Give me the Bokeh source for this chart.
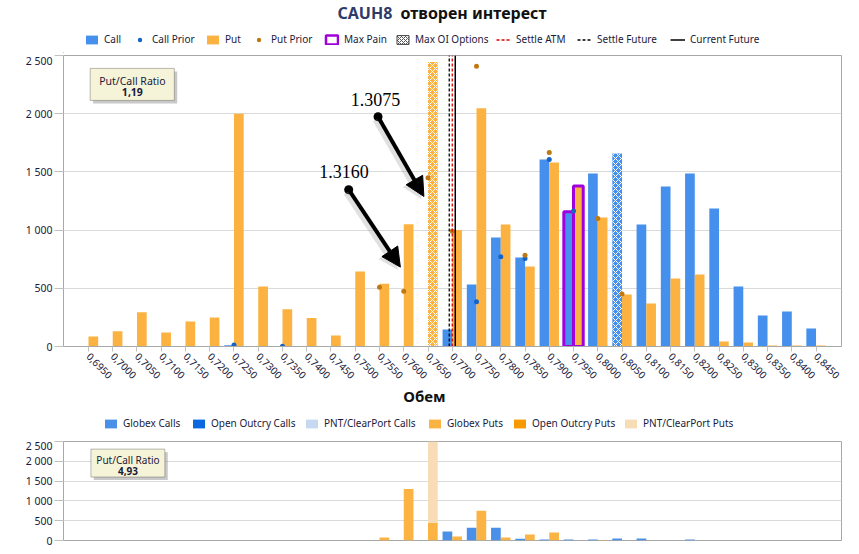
import numpy as np
from bokeh.plotting import figure
from bokeh.models import (Range1d, FixedTicker, Legend, LegendItem, ColumnDataSource,
                          Label, Arrow, NormalHead, BoxAnnotation)
from bokeh.layouts import column
from bokeh.embed import file_html
from bokeh.resources import INLINE

nan = float("nan")

# ---------------- data ----------------
strikes = ["0,6950", "0,7000", "0,7050", "0,7100", "0,7150", "0,7200", "0,7250", "0,7300",
           "0,7350", "0,7400", "0,7450", "0,7500", "0,7550", "0,7600", "0,7650", "0,7700",
           "0,7750", "0,7800", "0,7850", "0,7900", "0,7950", "0,8000", "0,8050", "0,8100",
           "0,8150", "0,8200", "0,8250", "0,8300", "0,8350", "0,8400", "0,8450"]
calls = [5, 5, 5, 5, 5, 5, 10, 5, 5, 5, 5, 5, 5, 5, 5, 146, 533, 937, 765, 1607, 1158,
         1487, 1659, 1049, 1375, 1487, 1186, 516, 266, 301, 155]
puts = [85, 130, 295, 120, 215, 250, 2000, 515, 320, 245, 95, 645, 540, 1050, 2445, 1000,
        2046, 1049, 688, 1581, 1378, 1109, 447, 370, 584, 619, 43, 34, 8, 8, 8]
call_prior = [nan, nan, nan, nan, nan, nan, 12, nan, 3, nan, nan, nan, nan, nan, nan, nan,
              384, 771, 756, 1607, 1165, nan, nan, nan, nan, nan, nan, nan, nan, nan, nan]
put_prior = [nan, nan, nan, nan, nan, nan, nan, nan, nan, nan, nan, nan, 510, 475, 1450, 990,
             2407, nan, 785, 1667, nan, 1100, 450, nan, nan, nan, nan, nan, nan, nan, nan]
max_pain = "0,7950"
settle_atm = 0.7700
settle_future = 0.76938
current_future = 0.77062
pc_ratio_oi = "1,19"

globex_calls = [0, 0, 0, 0, 0, 0, 0, 0, 0, 0, 0, 0, 0, 0, 0, 225, 325, 325, 45, 25, 25,
                25, 50, 50, 0, 25, 0, 0, 0, 0, 0]
open_outcry_calls = [0] * 31
pnt_calls = [0] * 31
globex_puts = [0, 0, 0, 0, 0, 0, 0, 0, 0, 0, 0, 0, 75, 1300, 450, 100, 750, 75, 150, 200,
               0, 15, 0, 0, 0, 0, 0, 0, 0, 0, 0]
open_outcry_puts = [0] * 31
pnt_puts = [0, 0, 0, 0, 0, 0, 0, 0, 0, 0, 0, 0, 0, 0, 2150, 0, 0, 0, 0, 0, 0, 0, 0, 0, 0,
            0, 0, 0, 0, 0, 0]
pc_ratio_vol = "4,93"

y_ticks = [0, 500, 1000, 1500, 2000, 2500]
y_tick_labels = ["0", "500", "1 000", "1 500", "2 000", "2 500"]

# ---------------- styles ----------------
FONT = "Noto Sans"
CALL = "#4590ec"
PUT = "#fbb240"
CALL_PRIOR = "#1464c8"
PUT_PRIOR = "#c07812"
MAXPAIN = "#a000dc"
TXT = "#1a1a3a"
GRID = "#dadada"
BORDER = "#a8a8a8"
G_C, O_C, P_C = "#4a8fe8", "#0a68e0", "#c6d9f1"
G_P, O_P, P_P = "#fbb444", "#f79a00", "#f7dcb6"
PAGE_W = 851
FR_L, FR_R = 63, 841   # frame edges shared by every plot in the column

n = len(strikes)
idx = np.arange(n)
strike_nums = np.array([float(s.replace(",", ".")) for s in strikes])
calls_a = np.array(calls, dtype=float)
puts_a = np.array(puts, dtype=float)
oi_call = int(np.argmax(calls_a))
oi_put = int(np.argmax(puts_a))
mp = strikes.index(max_pain)
W = 0.4
OFF = 0.2
XR = (-1.03, 31.05)


def blank(height):
    f = figure(width=PAGE_W, height=height, x_range=Range1d(FR_L, FR_R),
               y_range=Range1d(0, height), output_backend="svg", toolbar_location=None,
               x_axis_location=None, y_axis_location=None, min_border=0,
               min_border_left=FR_L, min_border_right=PAGE_W - FR_R, min_border_top=0,
               min_border_bottom=0)
    f.grid.visible = False
    f.outline_line_color = None
    return f


def add_legend(f, renderer, label, x, y):
    f.add_layout(Legend(items=[LegendItem(label=label, renderers=[renderer])],
                        location=(x - FR_L, y), orientation="horizontal",
                        label_text_font=FONT, label_text_font_size="10px",
                        label_text_color=TXT, glyph_width=15, glyph_height=11,
                        label_height=14, label_standoff=5, padding=0, margin=0,
                        border_line_alpha=0, background_fill_alpha=0))


def style_axes(p):
    p.xgrid.visible = False
    p.ygrid.grid_line_color = GRID
    p.outline_line_color = BORDER
    p.yaxis.ticker = FixedTicker(ticks=y_ticks)
    p.yaxis.major_label_overrides = {t: l for t, l in zip(y_ticks, y_tick_labels)}
    p.yaxis.axis_line_color = None
    p.yaxis.major_tick_line_color = "#c0c0c0"
    p.yaxis.major_tick_out = 9
    p.yaxis.major_tick_in = 0
    p.yaxis.minor_tick_line_color = None
    p.yaxis.major_label_standoff = 2
    p.yaxis.major_label_text_font = FONT
    p.yaxis.major_label_text_font_size = "10.5px"
    p.yaxis.major_label_text_color = TXT
    p.xaxis.ticker = FixedTicker(ticks=list(range(n)))
    p.xaxis.major_label_overrides = {i: s for i, s in enumerate(strikes)}
    p.xaxis.axis_line_color = BORDER
    p.xaxis.major_tick_line_color = "#c0c0c0"
    p.xaxis.major_tick_out = 5
    p.xaxis.major_tick_in = 0
    p.xaxis.minor_tick_line_color = None
    p.xaxis.major_label_orientation = -np.pi / 4
    p.xaxis.major_label_text_font = FONT
    p.xaxis.major_label_text_font_size = "10px"
    p.xaxis.major_label_text_color = TXT
    p.xaxis.major_label_standoff = 3


# ---------------- header: title + legend ----------------
H1 = 53
h1 = blank(H1)
h1.add_layout(Label(x=337, y=40.5, text="CAUH8", text_baseline="middle", text_font=FONT,
                    text_font_size="16px", text_font_style="bold", text_color="#2e3b6a"))
h1.add_layout(Label(x=400, y=40.5, text="отворен интерест", text_baseline="middle",
                    text_font=FONT, text_font_size="16px", text_font_style="bold",
                    text_color="#111111"))
# legend-only renderers, placed far outside the visible range
off = [-1000]
lo, hi = [-60], [-50]
lg_call = h1.vbar(x=off, bottom=lo, top=hi, width=1, fill_color=CALL, line_color=None)
lg_cp = h1.scatter(x=off, y=lo, size=5, fill_color=CALL_PRIOR, line_color=None)
lg_put = h1.vbar(x=off, bottom=lo, top=hi, width=1, fill_color=PUT, line_color=None)
lg_pp = h1.scatter(x=off, y=lo, size=5, fill_color=PUT_PRIOR, line_color=None)
lg_mp = h1.vbar(x=off, bottom=lo, top=hi, width=1, fill_color="white", line_color=MAXPAIN,
                line_width=2.5)
lg_oi = h1.vbar(x=off, bottom=lo, top=hi, width=1, fill_color="white", line_color="#444444",
                hatch_pattern="diagonal_cross", hatch_color="#555555", hatch_weight=1,
                hatch_scale=4)
lg_atm = h1.segment(x0=off, x1=off, y0=lo, y1=hi, line_color="#e00000", line_dash="3 2",
                    line_width=1.3)
lg_sf = h1.segment(x0=off, x1=off, y0=lo, y1=hi, line_color="black", line_dash="3 2",
                   line_width=1.3)
lg_cf = h1.segment(x0=off, x1=off, y0=lo, y1=hi, line_color="black", line_width=1.5)
for r, lab, gx in [(lg_call, "Call", 84), (lg_cp, "Call Prior", 132), (lg_put, "Put", 205),
                   (lg_pp, "Put Prior", 251), (lg_mp, "Max Pain", 324),
                   (lg_oi, "Max OI Options", 395), (lg_atm, "Settle ATM", 496),
                   (lg_sf, "Settle Future", 577), (lg_cf, "Current Future", 670)]:
    add_legend(h1, r, lab, gx, 7)

# ---------------- main chart ----------------
p = figure(width=PAGE_W, height=334, x_range=Range1d(*XR), y_range=Range1d(0, 2500),
           output_backend="svg", toolbar_location=None, min_border_left=FR_L,
           min_border_right=PAGE_W - FR_R, min_border_top=2, min_border_bottom=41)
style_axes(p)

mask_c = idx != oi_call
mask_p = idx != oi_put
p.vbar(x=idx[mask_c] - OFF, top=calls_a[mask_c], width=W, fill_color=CALL, line_color=None)
p.vbar(x=idx[mask_p] + OFF, top=puts_a[mask_p], width=W, fill_color=PUT, line_color=None)
p.vbar(x=[oi_call - OFF], top=[calls_a[oi_call]], width=W, fill_color=CALL, line_color=None,
       hatch_pattern="diagonal_cross", hatch_color="white", hatch_weight=1, hatch_scale=6)
p.vbar(x=[oi_put + OFF], top=[puts_a[oi_put]], width=W, fill_color=PUT, line_color=None,
       hatch_pattern="diagonal_cross", hatch_color="white", hatch_weight=1, hatch_scale=6)
p.vbar(x=[mp - OFF, mp + OFF], top=[calls_a[mp], puts_a[mp]], width=W, fill_alpha=0,
       line_color=MAXPAIN, line_width=3)
p.scatter(x=idx, y=call_prior, size=5, fill_color=CALL_PRIOR, line_color=None)
p.scatter(x=idx, y=put_prior, size=5, fill_color=PUT_PRIOR, line_color=None)

pos_atm = float(np.interp(settle_atm, strike_nums, idx))
pos_sf = float(np.interp(settle_future, strike_nums, idx))
pos_cf = float(np.interp(current_future, strike_nums, idx))
p.segment(x0=[pos_atm], x1=[pos_atm], y0=[0], y1=[2500], line_color="#e00000",
          line_dash="3 2", line_width=1.3)
p.segment(x0=[pos_sf], x1=[pos_sf], y0=[0], y1=[2500], line_color="black",
          line_dash="3 2", line_width=1.3)
p.segment(x0=[pos_cf], x1=[pos_cf], y0=[0], y1=[2500], line_color="black", line_width=1.5)

p.add_layout(BoxAnnotation(left=0.19, right=3.66, top=2363, bottom=2088, fill_color="#888888",
                           fill_alpha=0.45, line_color=None))
p.add_layout(BoxAnnotation(left=0.07, right=3.54, top=2389, bottom=2114, fill_color="#f6f4d8",
                           fill_alpha=1, line_color="#222222", line_width=1))
p.add_layout(Label(x=1.81, y=2280, text="Put/Call Ratio", text_align="center",
                   text_baseline="middle", text_font=FONT, text_font_size="10.5px",
                   text_color=TXT))
p.add_layout(Label(x=1.81, y=2183, text=pc_ratio_oi, text_align="center",
                   text_baseline="middle", text_font=FONT, text_font_size="10.5px",
                   text_font_style="bold", text_color=TXT))

for (xs, ys, xe, ye) in [(11.94, 1974, 13.83, 1289), (10.73, 1347, 12.86, 682)]:
    p.add_layout(Arrow(x_start=xs - 0.1, y_start=ys - 25, x_end=xe - 0.1, y_end=ye - 25,
                       line_color="#999999", line_alpha=0.3, line_width=6,
                       end=NormalHead(size=20, fill_color="#999999", fill_alpha=0.3,
                                      line_color=None)))
    p.add_layout(Arrow(x_start=xs, y_start=ys, x_end=xe, y_end=ye, line_color="black",
                       line_width=4, end=NormalHead(size=19, fill_color="black",
                                                    line_color="black")))
p.scatter(x=[11.94, 10.73], y=[1974, 1347], size=9, fill_color="black", line_color=None)
p.add_layout(Label(x=10.81, y=2123, text="1.3075", text_baseline="middle",
                   text_font="Liberation Serif", text_font_size="18px", text_color="black"))
p.add_layout(Label(x=9.52, y=1500, text="1.3160", text_baseline="middle",
                   text_font="Liberation Serif", text_font_size="18px", text_color="black"))

# ---------------- axis title + volume legend ----------------
H2 = 51
h2 = blank(H2)
h2.add_layout(Label(x=424, y=43, text="Обем", text_align="center", text_baseline="middle",
                    text_font=FONT, text_font_size="15px", text_font_style="bold",
                    text_color="#111111"))
lg2 = []
for col in [G_C, O_C, P_C, G_P, O_P, P_P]:
    lg2.append(h2.vbar(x=off, bottom=lo, top=hi, width=1, fill_color=col, line_color=None))
for r, lab, gx in zip(lg2, ["Globex Calls", "Open Outcry Calls", "PNT/ClearPort Calls",
                            "Globex Puts", "Open Outcry Puts", "PNT/ClearPort Puts"],
                      [103, 191, 304, 427, 512, 623]):
    add_legend(h2, r, lab, gx, 8)

# ---------------- volume chart ----------------
src = ColumnDataSource(dict(xc=idx - OFF, xp=idx + OFF, gc=globex_calls, oc=open_outcry_calls,
                            pc=pnt_calls, gp=globex_puts, op=open_outcry_puts, pp=pnt_puts))
q = figure(width=PAGE_W, height=114, x_range=Range1d(*XR), y_range=Range1d(0, 2500),
           output_backend="svg", toolbar_location=None, min_border_left=FR_L,
           min_border_right=PAGE_W - FR_R, min_border_top=3, min_border_bottom=12)
style_axes(q)
q.xaxis.visible = False
q.vbar_stack(["gc", "oc", "pc"], x="xc", width=W, fill_color=[G_C, O_C, P_C],
             line_color=None, source=src)
q.vbar_stack(["gp", "op", "pp"], x="xp", width=W, fill_color=[G_P, O_P, P_P],
             line_color=None, source=src)
q.add_layout(BoxAnnotation(left=0.22, right=3.27, top=2230, bottom=1525, fill_color="#888888",
                           fill_alpha=0.45, line_color=None))
q.add_layout(BoxAnnotation(left=0.1, right=3.15, top=2308, bottom=1603, fill_color="#f6f4d8",
                           fill_alpha=1, line_color="#222222", line_width=1))
q.add_layout(Label(x=1.63, y=2045, text="Put/Call Ratio", text_align="center",
                   text_baseline="middle", text_font=FONT, text_font_size="10px",
                   text_color=TXT))
q.add_layout(Label(x=1.63, y=1762, text=pc_ratio_vol, text_align="center",
                   text_baseline="middle", text_font=FONT, text_font_size="10px",
                   text_font_style="bold", text_color=TXT))

layout = column(h1, p, h2, q, spacing=0)
open("out.html", "w").write(file_html(layout, INLINE))
